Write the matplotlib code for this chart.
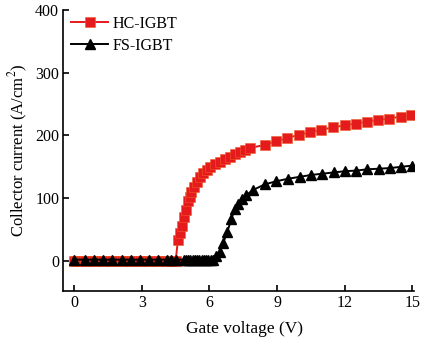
import matplotlib
matplotlib.use('Agg')
import matplotlib.pyplot as plt

plt.rcParams['font.family'] = ['Liberation Serif', 'DejaVu Serif']
plt.rcParams['mathtext.fontset'] = 'stix'

# HC-IGBT (red squares)
hc_v = [0.0, 0.1, 0.2, 0.3, 0.4, 0.5, 0.6, 0.7, 0.8, 0.9, 1.0, 1.1, 1.2, 1.3, 1.4, 1.5,
        1.6, 1.7, 1.8, 1.9, 2.0, 2.1, 2.2, 2.3, 2.4, 2.5, 2.6, 2.7, 2.8, 2.9, 3.0, 3.1,
        3.2, 3.3, 3.4, 3.5, 3.6, 3.7, 3.8, 3.9, 4.0, 4.1, 4.2, 4.3, 4.4, 4.5,
        4.6, 4.68, 4.76, 4.87, 4.96, 5.06, 5.13, 5.2, 5.3, 5.43, 5.58, 5.72, 5.87, 6.02,
        6.24, 6.46, 6.68, 6.9, 7.12, 7.35, 7.57, 7.8, 8.45, 8.97, 9.45, 9.97, 10.47,
        10.96, 11.47, 11.99, 12.48, 12.98, 13.47, 13.98, 14.47, 14.94]
hc_i = [0] * 46 + [33, 45, 55, 70, 81, 95, 102, 110, 118, 126, 134, 140, 145, 149,
                   154, 158, 162, 166, 170, 174, 177, 180, 185, 191, 196, 201, 205,
                   209, 213, 216, 219, 222, 225, 227, 230, 232]

# FS-IGBT (black triangles)
fs_v = [0.0, 0.5, 0.9, 1.3, 1.7, 2.1, 2.5, 2.9, 3.3, 3.7, 4.1, 4.3, 4.5,
        4.85, 4.95, 5.05, 5.15, 5.25, 5.35, 5.45, 5.55, 5.65, 5.75, 5.85, 5.95, 6.05, 6.15,
        6.3, 6.46, 6.6, 6.79, 6.97, 7.12, 7.27, 7.42, 7.64, 7.93, 8.45, 8.97, 9.48,
        10.0, 10.5, 11.0, 11.5, 12.0, 12.5, 13.0, 13.5, 14.0, 14.5, 15.0]
fs_i = [2] * 27 + [8, 14, 28, 46, 67, 83, 91, 99, 105, 113, 122, 127, 131,
                   134, 137, 139, 141, 143, 144, 146, 147, 148, 150, 152]

fig = plt.figure(figsize=(4.29, 3.43), dpi=100)
ax = fig.add_axes([0.1476, 0.1516, 0.8165, 0.8192])

ax.plot(hc_v, hc_i, color='#e41a1c', marker='s', markersize=6.5, linewidth=1.4,
        markeredgecolor='#f05a28', markeredgewidth=0.4, label='HC-IGBT')
ax.plot(fs_v, fs_i, color='black', marker='^', markersize=7, linewidth=1.4,
        label='FS-IGBT')

ax.set_xlim(-0.48, 15.05)
ax.set_ylim(-48, 400)
ax.set_xticks([0, 3, 6, 9, 12, 15])
ax.set_yticks([0, 100, 200, 300, 400])

for side in ['top', 'right']:
    ax.spines[side].set_visible(False)
ax.spines['left'].set_linewidth(1.2)
ax.spines['bottom'].set_linewidth(1.2)
ax.tick_params(direction='in', length=4, width=1.2, labelsize=11.5, pad=3)

ax.set_xlabel('Gate voltage (V)', fontsize=12.5)
ax.xaxis.set_label_coords(0.517, -0.105)
ax.set_ylabel('Collector current (A/cm$^2$)', fontsize=12)

ax.legend(loc='upper left', bbox_to_anchor=(0.023, 0.98), frameon=False,
          fontsize=11.5, numpoints=1, handlelength=2.3, handletextpad=0.26,
          labelspacing=0.38, borderaxespad=0, borderpad=0)

fig.savefig('out.png', dpi=100)
